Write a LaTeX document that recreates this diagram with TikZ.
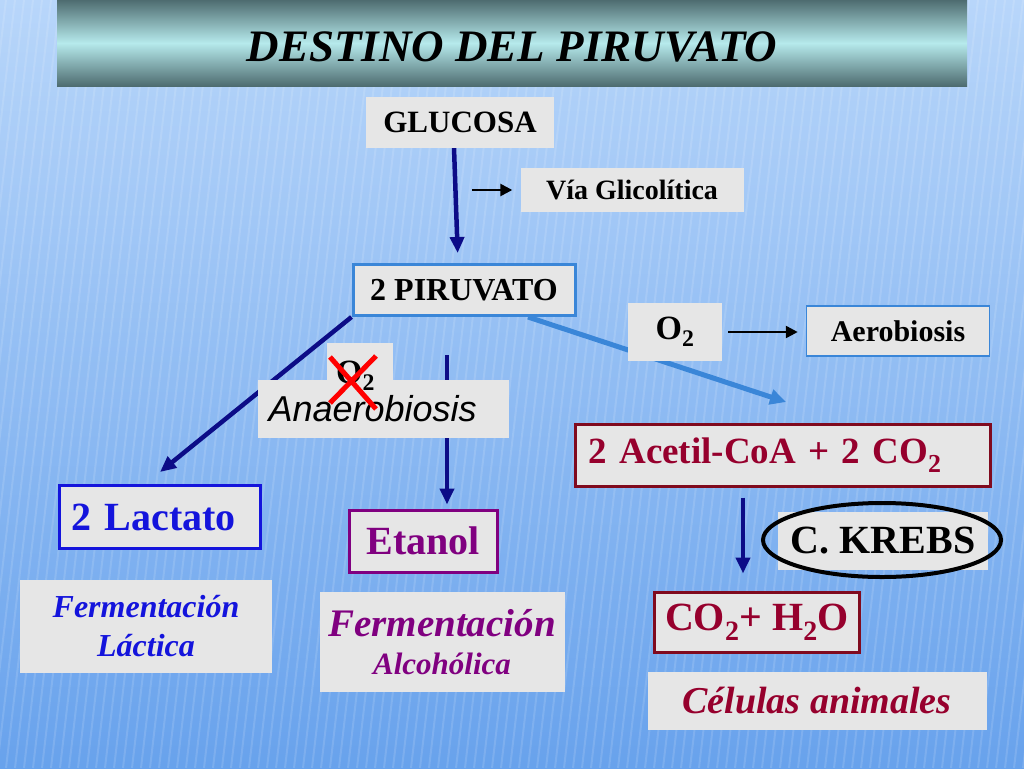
\documentclass[tikz,border=0pt]{standalone}
\usepackage{fontspec}
\setmainfont{Liberation Serif}
\newfontfamily\arialfont{Liberation Sans}
\usetikzlibrary{
  arrows.meta, % for the Triangle arrow tips
  shapes.geometric, % for the ring round C. KREBS
}
\pgfdeclarelayer{back}
\pgfdeclarelayer{links}
\pgfsetlayers{back,links,main}

\definecolor{boxgray}{RGB}{230,230,230}
\definecolor{navy}{RGB}{12,12,135}
\definecolor{pirublue}{RGB}{58,134,216}
\definecolor{lactblue}{RGB}{20,20,220}
\definecolor{etanpurple}{RGB}{128,0,128}
\definecolor{wine}{RGB}{150,0,45}
\definecolor{winebox}{RGB}{128,10,30}
\definecolor{skytop}{RGB}{184,214,250}
\definecolor{skybot}{RGB}{104,162,236}
\definecolor{bardark}{RGB}{78,108,112}
\definecolor{barlight}{RGB}{182,234,236}

\newcommand{\txtsz}[1]{\fontsize{#1}{#1}\selectfont}

\tikzset{
  greybox/.style={ % style for the grey label boxes
    rectangle,fill=boxgray, % flat grey, no frame unless given
    inner sep=0pt, % the sizes are set on each box
  },
  titlebar/.style={ % style for the banner at the top
    rectangle,inner sep=0pt,
    top color=bardark,bottom color=bardark,middle color=barlight,
  },
  navyarrow/.style={ % style for the dark blue connectors
    -{Triangle[length=16pt,width=14pt]},
    navy,line width=4.5pt,
  },
  blackarrow/.style={ % style for the small black pointers
    -{Triangle[length=12pt,width=12pt]},
    black,line width=2.5pt,
  },
  aeroarrow/.style={ % style for the light blue connector
    -{Triangle[length=16pt,width=15pt]},
    pirublue,line width=5pt,
  },
  ring/.style={ % style for the ellipse round C. KREBS
    ellipse,draw,line width=4pt,
    minimum width=238pt,minimum height=74pt,
  },
  cross/.style={ % the red cross over O2
    red,line width=5pt,
  },
  stripe/.style={ % faint stripes of the background
    white,opacity=0.13,line width=2pt,
  },
}

\begin{document}
\begin{tikzpicture}[x=1pt,y=-1pt]
\useasboundingbox (0,0) rectangle (1024,768);
\begin{pgfonlayer}{back}
	\shade[top color=skytop,bottom color=skybot] (0,0) rectangle (1024,768);
	\foreach \sx in {-120,-111,...,1030}
		\draw[stripe] (\sx,768) -- (\sx+90,0);
\end{pgfonlayer}

	% banner
	\node[titlebar,minimum width=910pt,minimum height=86pt] (title) at (512,43) {};
	\node[font=\txtsz{45}\bfseries\itshape] (titletext) at (512,47) {DESTINO DEL PIRUVATO};

	% glycolysis
	\node[greybox,minimum width=188pt,minimum height=51pt,font=\txtsz{31}\bfseries] (gluc) at (460,122) {GLUCOSA};
	\node[greybox,minimum width=223pt,minimum height=44pt,font=\txtsz{28}\bfseries] (via) at (632,190) {Vía Glicolítica};
	\coordinate (glyc) at (472,190);
	\node[greybox,draw=pirublue,line width=3pt,minimum width=222pt,minimum height=51pt,font=\txtsz{32}\bfseries] (piru) at (464,290) {2 PIRUVATO};

	% aerobic side
	\node[greybox,minimum width=94pt,minimum height=58pt,font=\txtsz{34}\bfseries] (oxy) at (675,332) {O\textsubscript{2}};
	\node[greybox,draw=pirublue,line width=1.5pt,minimum width=183pt,minimum height=50pt,font=\txtsz{30}\bfseries] (aero) at (898,331) {Aerobiosis};
	\coordinate (aerotip) at (786,402);
	\node[greybox,draw=winebox,line width=3pt,text width=389pt,inner xsep=13pt,align=left,minimum height=62pt,text=wine,font=\txtsz{37}\bfseries] (acet) at (783,455) {2 Acetil-CoA + 2 CO\textsubscript{2}};
	\node[greybox,minimum width=210pt,minimum height=58pt,font=\txtsz{40}\bfseries] (krebs) at (883,541) {C. KREBS};
	\node[ring] (krebsring) at (882,540) {};
	\node[greybox,draw=winebox,line width=3pt,minimum width=205pt,minimum height=60pt,text=wine,font=\txtsz{40}\bfseries] (prod) at (757,622) {CO\textsubscript{2}+ H\textsubscript{2}O};
	\node[greybox,minimum width=339pt,minimum height=58pt,text=wine,font=\txtsz{38}\bfseries\itshape] (anim) at (817,701) {Células animales};

	% anaerobic side
	\node[greybox,minimum width=66pt,minimum height=42pt] (noxybox) at (360,364) {};
	\node[greybox,text width=229pt,inner xsep=11pt,align=left,minimum height=58pt,font=\arialfont\itshape\txtsz{36}] (anae) at (383,409) {Anaerobiosis};
	\node[anchor=base west,inner sep=0pt,font=\txtsz{34}\bfseries] (noxy) at (336,383) {O\textsubscript{2}};
	\draw[cross] (330,357) -- (376,409) (376,356) -- (330,403);
	\coordinate (lactip) at (160,472);
	\coordinate (anatop) at (447,355);
	\node[greybox,draw=lactblue,line width=3pt,text width=177pt,inner xsep=12pt,align=left,minimum height=63pt,text=lactblue,font=\txtsz{40}\bfseries] (lact) at (160,517) {2 Lactato};
	\node[greybox,draw=etanpurple,line width=3pt,minimum width=148pt,minimum height=62pt,text=etanpurple,font=\txtsz{40}\bfseries] (etan) at (423,541) {Etanol};
	\node[greybox,minimum width=252pt,minimum height=93pt,align=center,text=lactblue,font=\fontsize{32}{39}\selectfont\bfseries\itshape] (ferlac) at (146,626) {Fermentación\\Láctica};
	\node[greybox,minimum width=245pt,minimum height=100pt,align=center,text=etanpurple,font=\fontsize{31}{38}\selectfont\bfseries\itshape] (feralc) at (442,642) {{\fontsize{39}{38}\selectfont Fermentación}\\Alcohólica};

\begin{pgfonlayer}{links}
	\draw[navyarrow,shorten >=10pt] ([xshift=-6pt]gluc.south) -- ([xshift=-6pt]piru.north);
	\draw[blackarrow,shorten >=8pt] (glyc) -- (via);
	\draw[blackarrow,shorten <=6pt,shorten >=8pt] (oxy.east) -- (oxy.east -| aero.west);
	\draw[aeroarrow] ([xshift=64pt]piru.south) -- (aerotip);
	\draw[navyarrow] (piru.south west) -- (lactip);
	\draw[navyarrow,shorten >=4pt] (anatop) -- ([xshift=24pt]etan.north);
	\draw[navyarrow,shorten <=10pt,shorten >=17pt] ([xshift=-40pt]acet.south) -- ([xshift=-14pt]prod.north);
\end{pgfonlayer}
\end{tikzpicture}
\end{document}
